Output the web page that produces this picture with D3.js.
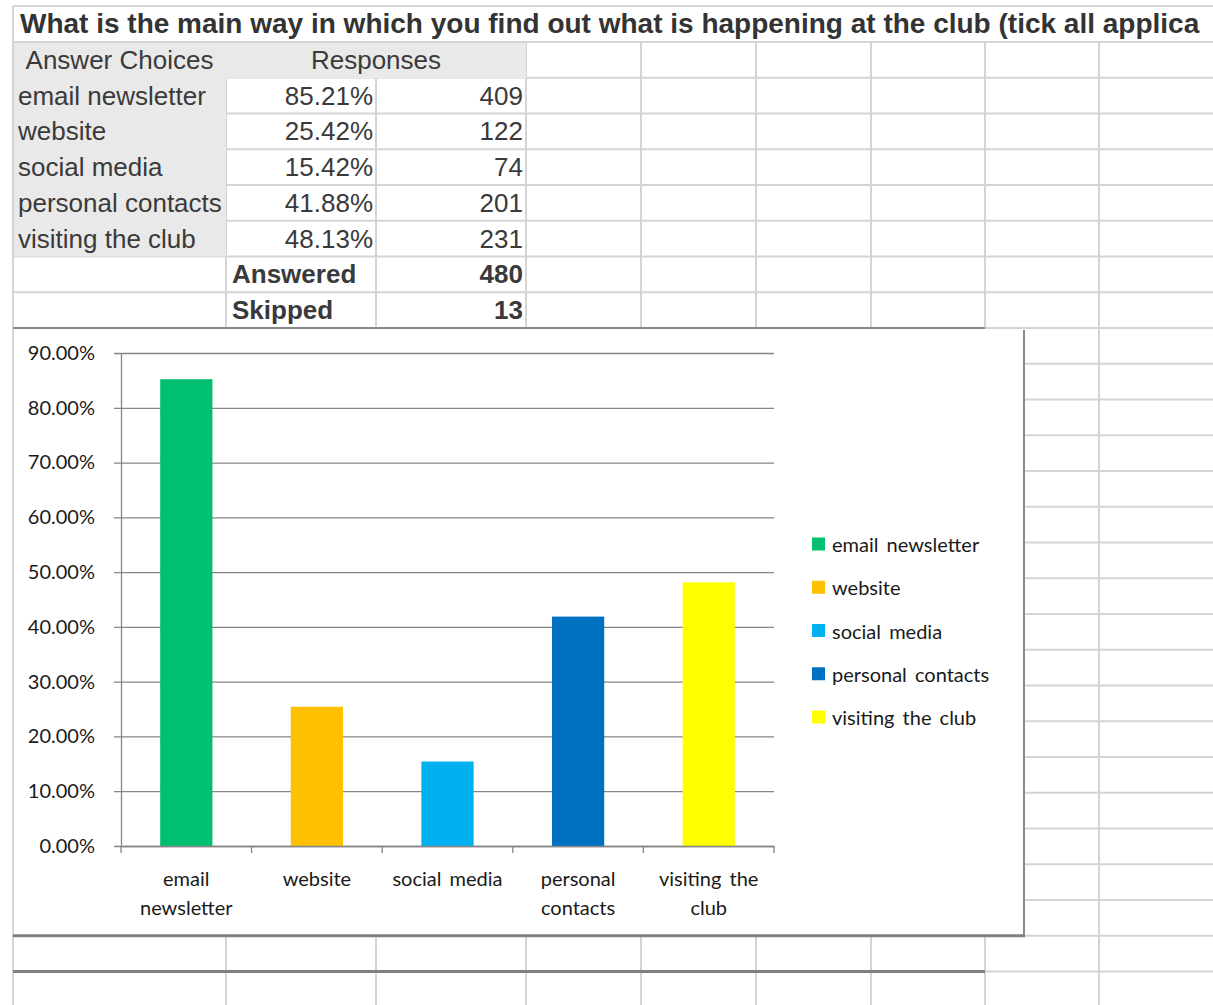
<!DOCTYPE html>
<html>
<head>
<meta charset="utf-8">
<script src="https://cdn.jsdelivr.net/npm/d3@7"></script>
<style>
  html, body { margin: 0; padding: 0; background: #fff; }
  svg { display: block; }
</style>
</head>
<body>
<script>
// ---------- data ----------
const titleText = "What is the main way in which you find out what is happening at the club (tick all applicable)";
const headers = ["Answer Choices", "Responses"];
const categories = ["email newsletter", "website", "social media", "personal contacts", "visiting the club"];
const percentages = [0.8521, 0.2542, 0.1542, 0.4188, 0.4813];
const counts = [409, 122, 74, 201, 231];
const totalsLabels = ["Answered", "Skipped"];
const totalsValues = [480, 13];
const barColors = ["#00BF6F", "#FFC000", "#00B0F0", "#0070C0", "#FFFF00"];
const yTicks = [0, 0.1, 0.2, 0.3, 0.4, 0.5, 0.6, 0.7, 0.8, 0.9];

// ---------- layout ----------
const W = 1213, H = 1005;
const colX = [13, 226, 376, 526, 641, 756, 871, 985, 1099, 1213];
const rowTop = 42, rowH = 35.75;
const rowY = k => rowTop + k * rowH;
const gridColor = "#d4d4d4";
const tableFont = "'Liberation Sans', Arial, sans-serif";
const chartFont = "Lato, 'Open Sans', sans-serif";
const chartFontSize = 20;
const pct = d3.format(".2%");

const svg = d3.select("body").append("svg").attr("width", W).attr("height", H);

// ---------- spreadsheet grid ----------
const grid = svg.append("g");
grid.append("line").attr("x1", 13).attr("x2", W).attr("y1", 6).attr("y2", 6)
  .attr("stroke", gridColor).attr("stroke-width", 2);
grid.append("line").attr("x1", 13).attr("x2", 13).attr("y1", 6).attr("y2", H)
  .attr("stroke", gridColor).attr("stroke-width", 2);
d3.range(0, 28).forEach(k => {
  grid.append("line").attr("x1", 13).attr("x2", W).attr("y1", rowY(k)).attr("y2", rowY(k))
    .attr("stroke", gridColor).attr("stroke-width", 2);
});
colX.slice(1, -1).forEach(x => {
  grid.append("line").attr("x1", x).attr("x2", x).attr("y1", rowY(0)).attr("y2", H)
    .attr("stroke", gridColor).attr("stroke-width", 2);
});

// gray shading
svg.append("rect").attr("x", 14).attr("y", rowY(0) + 1).attr("width", colX[3] - 14).attr("height", rowH)
  .attr("fill", "#e9e9e9");
svg.append("rect").attr("x", 14).attr("y", rowY(1)).attr("width", colX[1] - 14).attr("height", rowH * categories.length)
  .attr("fill", "#e9e9e9");

// title
svg.append("clipPath").attr("id", "titleClip").append("rect")
  .attr("x", 14).attr("y", 0).attr("width", 1186).attr("height", 42);
svg.append("text").attr("clip-path", "url(#titleClip)")
  .attr("x", 20).attr("y", 33)
  .attr("font-family", tableFont).attr("font-weight", "bold").attr("font-size", 28)
  .attr("fill", "#333").text(titleText);

// headers
const table = svg.append("g").attr("font-family", tableFont).attr("font-size", 26).attr("fill", "#3a3a3a");
table.append("text").attr("x", (colX[0] + colX[1]) / 2).attr("y", rowY(0) + rowH / 2)
  .attr("dy", "0.35em").attr("text-anchor", "middle").text(headers[0]);
table.append("text").attr("x", (colX[1] + colX[3]) / 2).attr("y", rowY(0) + rowH / 2)
  .attr("dy", "0.35em").attr("text-anchor", "middle").text(headers[1]);

categories.forEach((c, i) => {
  const cy = rowY(i + 1) + rowH / 2;
  table.append("text").attr("x", 18).attr("y", cy).attr("dy", "0.35em").text(c);
  table.append("text").attr("x", colX[2] - 3).attr("y", cy).attr("dy", "0.35em")
    .attr("text-anchor", "end").text(pct(percentages[i]));
  table.append("text").attr("x", colX[3] - 3).attr("y", cy).attr("dy", "0.35em")
    .attr("text-anchor", "end").text(counts[i]);
});
totalsLabels.forEach((t, j) => {
  const cy = rowY(categories.length + 1 + j) + rowH / 2;
  table.append("text").attr("x", colX[1] + 6).attr("y", cy).attr("dy", "0.35em")
    .attr("font-weight", "bold").text(t);
  table.append("text").attr("x", colX[3] - 3).attr("y", cy).attr("dy", "0.35em")
    .attr("text-anchor", "end").attr("font-weight", "bold").text(totalsValues[j]);
});

// ---------- chart ----------
const chartTop = rowY(8), chartBottom = rowY(25), chartRight = 1024;
svg.append("rect").attr("x", 14).attr("y", chartTop + 1).attr("width", chartRight - 14)
  .attr("height", chartBottom - chartTop - 1).attr("fill", "#fff");
// borders
svg.append("line").attr("x1", 13).attr("x2", colX[7]).attr("y1", chartTop).attr("y2", chartTop)
  .attr("stroke", "#8a8a8a").attr("stroke-width", 2);
svg.append("line").attr("x1", chartRight).attr("x2", chartRight).attr("y1", chartTop + 2).attr("y2", chartBottom)
  .attr("stroke", "#8a8a8a").attr("stroke-width", 2);
svg.append("line").attr("x1", 13).attr("x2", chartRight + 1).attr("y1", chartBottom).attr("y2", chartBottom)
  .attr("stroke", "#808080").attr("stroke-width", 3);
svg.append("line").attr("x1", 13).attr("x2", colX[7]).attr("y1", rowY(26)).attr("y2", rowY(26))
  .attr("stroke", "#808080").attr("stroke-width", 3);

const plot = { left: 121, right: 774, top: 353, bottom: 846 };
const x = d3.scaleBand().domain(categories).range([plot.left, plot.right])
  .paddingInner(0.6).paddingOuter(0.3);
const y = d3.scaleLinear().domain([0, 0.9]).range([plot.bottom, plot.top]);
const axisColor = "#868686";

// y axis + gridlines
const yAxis = d3.axisLeft(y).tickValues(yTicks).tickFormat(pct)
  .tickSizeInner(-(plot.right - plot.left)).tickSizeOuter(0).tickPadding(26);
const gy = svg.append("g").attr("transform", `translate(${plot.left},0)`).call(yAxis);
gy.select(".domain").attr("stroke", axisColor).attr("stroke-width", 1.3);
gy.selectAll(".tick line").attr("x1", -7).attr("stroke", axisColor).attr("stroke-width", 1.3);
gy.selectAll(".tick text").attr("font-family", chartFont).attr("font-size", chartFontSize).attr("fill", "#1a1a1a");

// bars
svg.append("g").selectAll("rect").data(categories).join("rect")
  .attr("x", d => x(d)).attr("width", x.bandwidth())
  .attr("y", (d, i) => y(percentages[i]))
  .attr("height", (d, i) => y(0) - y(percentages[i]))
  .attr("fill", (d, i) => barColors[i]);

// x axis
const xAxis = d3.axisBottom(x).tickSize(0).tickFormat("");
const gx = svg.append("g").attr("transform", `translate(0,${plot.bottom})`).call(xAxis);
gx.select(".domain").attr("stroke", axisColor).attr("stroke-width", 1.3);
const step = x.step();
const boundaries = d3.range(categories.length + 1).map(i => plot.left + i * step);
gx.selectAll("line.bound").data(boundaries).join("line").attr("class", "bound")
  .attr("x1", d => d).attr("x2", d => d).attr("y1", 0).attr("y2", 7)
  .attr("stroke", axisColor).attr("stroke-width", 1.3);

// x labels with wrapping
const labelG = gx.append("g").attr("font-family", chartFont).attr("font-size", chartFontSize)
  .attr("fill", "#1a1a1a").attr("text-anchor", "middle").attr("word-spacing", "3px");
categories.forEach(c => {
  const cx = x(c) + x.bandwidth() / 2;
  const t = labelG.append("text").attr("x", cx).attr("y", 40);
  const words = c.split(" ");
  let line = [];
  let tspan = t.append("tspan").attr("x", cx).attr("dy", 0);
  words.forEach(w => {
    line.push(w);
    tspan.text(line.join(" "));
    if (tspan.node().getComputedTextLength() > 122 && line.length > 1) {
      line.pop();
      tspan.text(line.join(" "));
      line = [w];
      tspan = t.append("tspan").attr("x", cx).attr("dy", 29).text(w);
    }
  });
});

// legend
const legend = svg.append("g").attr("font-family", chartFont).attr("font-size", chartFontSize).attr("fill", "#1a1a1a")
  .attr("word-spacing", "3px");
const legY = d3.scalePoint().domain(categories).range([544, 717]);
categories.forEach((c, i) => {
  legend.append("rect").attr("x", 812).attr("y", legY(c) - 6.5).attr("width", 13).attr("height", 13)
    .attr("fill", barColors[i]);
  legend.append("text").attr("x", 832).attr("y", legY(c) + 1).attr("dy", "0.35em").text(c);
});
</script>
</body>
</html>
